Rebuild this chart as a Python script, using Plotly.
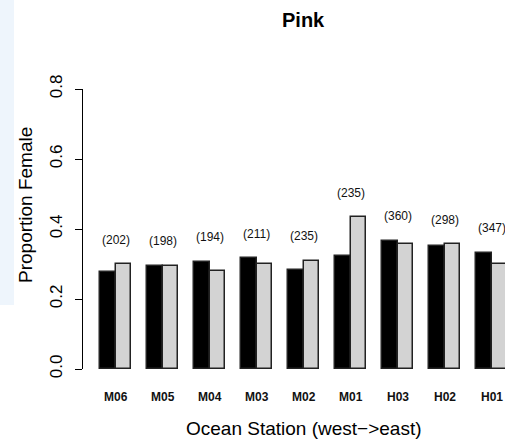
import plotly.graph_objects as go

stations = ["M06", "M05", "M04", "M03", "M02", "M01", "H03", "H02", "H01"]
black_vals = [0.276, 0.295, 0.307, 0.316, 0.282, 0.322, 0.367, 0.352, 0.332]
gray_vals = [0.300, 0.295, 0.281, 0.301, 0.310, 0.433, 0.357, 0.357, 0.299]
counts = [202, 198, 194, 211, 235, 235, 360, 298, 347]
y_ticks = [0.0, 0.2, 0.4, 0.6, 0.8]

W, H = 505, 439
L, T, B, R = 83, 89, 70, 0

# R barplot style positions: group i occupies [3i+1, 3i+3]
n = len(stations)
black_x = [3 * i + 1.5 for i in range(n)]
gray_x = [3 * i + 2.5 for i in range(n)]
centers = [3 * i + 2 for i in range(n)]

fig = go.Figure()
fig.add_trace(go.Bar(x=black_x, y=black_vals, width=1.0,
                     marker=dict(color="black", line=dict(color="#222222", width=1.5)),
                     showlegend=False, hoverinfo="skip"))
fig.add_trace(go.Bar(x=gray_x, y=gray_vals, width=1.0,
                     marker=dict(color="#D3D3D3", line=dict(color="#222222", width=1.5)),
                     showlegend=False, hoverinfo="skip"))

unit = 47.0 / 3.0
x0 = 100 - unit  # pixel of x=0
xmin = (L - x0) / unit
xmax = (W - x0) / unit

annotations = []
for c, b, g, k in zip(centers, black_vals, gray_vals, counts):
    annotations.append(dict(x=c, y=max(b, g) + 0.07, xref="x", yref="y",
                            text=f"({k})", showarrow=False,
                            font=dict(size=12, color="#111111"),
                            xanchor="center", yanchor="middle"))
for c, s in zip(centers, stations):
    annotations.append(dict(x=c, y=0, xref="x", yref="y", text=f"<b>{s}</b>",
                            showarrow=False, yshift=-28,
                            font=dict(size=12, color="#111111"),
                            xanchor="center", yanchor="middle"))

annotations.append(dict(x=(303 - L) / (W - L - R), y=1, xref="paper", yref="paper",
                        yshift=T - 20, text="<b>Pink</b>", showarrow=False,
                        font=dict(size=20, color="black"), xanchor="center", yanchor="middle"))
annotations.append(dict(x=(304 - L) / (W - L - R), y=0, xref="paper", yref="paper",
                        yshift=-(428 - (H - B)), text="Ocean Station (west\u2212>east)",
                        showarrow=False, font=dict(size=19, color="black"),
                        xanchor="center", yanchor="middle"))
annotations.append(dict(x=0, y=(369 - 205) / (H - B - T), xref="paper", yref="paper",
                        xshift=-(L - 25), text="Proportion Female", textangle=-90,
                        showarrow=False, font=dict(size=19, color="black"),
                        xanchor="center", yanchor="middle"))

fig.update_layout(
    width=W, height=H,
    margin=dict(l=L, r=R, t=T, b=B),
    paper_bgcolor="white", plot_bgcolor="white",
    font=dict(family="Liberation Sans, Arial, sans-serif", color="black"),
    barmode="overlay", bargap=0,
    annotations=annotations,
    shapes=[dict(type="rect", xref="paper", yref="paper",
                 x0=-L / (W - L - R), x1=(14 - L) / (W - L - R),
                 y0=(369 - 305) / (H - B - T), y1=1 + T / (H - B - T),
                 fillcolor="#EEF5FC", line=dict(width=0), layer="below")],
    xaxis=dict(range=[xmin, xmax], showticklabels=False, ticks="", showgrid=False,
               zeroline=False, showline=False, fixedrange=True),
    yaxis=dict(range=[0, 0.8], tickvals=y_ticks, ticktext=[f"{v:.1f}" for v in y_ticks],
               ticks="outside", ticklen=7, tickwidth=1.2, tickcolor="black",
               showline=True, linecolor="black", linewidth=1.2,
               tickangle=-90, tickfont=dict(size=17, color="black"),
               ticklabelstandoff=6,
               showgrid=False, zeroline=False, fixedrange=True),
)

fig.write_html("out.html", config={"displayModeBar": False},
               post_script="document.body.style.margin='0';document.body.style.overflow='hidden';")
